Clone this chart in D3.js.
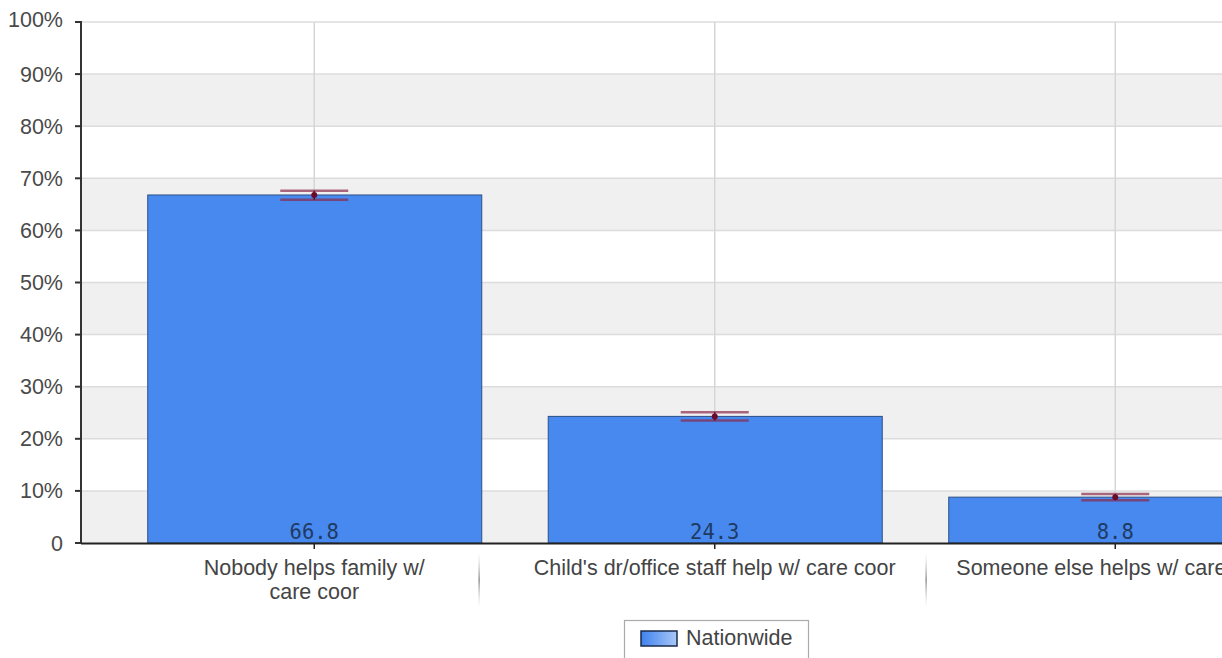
<!DOCTYPE html>
<html><head><meta charset="utf-8">
<script src="https://cdn.jsdelivr.net/npm/d3@7"></script>
<style>
html,body{margin:0;padding:0;background:#fff;overflow:hidden;}
svg{display:block;font-family:"Liberation Sans",Arial,sans-serif;}
</style></head>
<body>
<svg id="chart" width="1222" height="658"></svg>
<script>
const categories = ["Nobody helps family w/ care coor", "Child's dr/office staff help w/ care coor", "Someone else helps w/ care coor"];
const labelLines = [["Nobody helps family w/", "care coor"], ["Child's dr/office staff help w/ care coor"], ["Someone else helps w/ care coor"]];
const values = [66.8, 24.3, 8.8];
const ciLower = [65.9, 23.5, 8.2];
const ciUpper = [67.6, 25.1, 9.4];
const yTicks = [0, 10, 20, 30, 40, 50, 60, 70, 80, 90, 100];
const seriesName = "Nationwide";

(function () {
const svg = d3.select("#chart");
const pLeft = 81, pTop = 22, pBottom = 543, pRight = 1400;
const fs = 21.5;
const x = d3.scaleBand().domain(categories).range([114, 1315.5]).paddingInner(0.166).paddingOuter(0.083);
const y = d3.scaleLinear().domain([0, 100]).range([pBottom, pTop]);

const defs = svg.append("defs");
const clip = defs.append("clipPath").attr("id", "pclip");
clip.append("rect").attr("x", pLeft).attr("y", 0).attr("width", 1222 - pLeft).attr("height", pBottom + 2);
const grad = defs.append("linearGradient").attr("id", "lg").attr("x1", 0).attr("x2", 1).attr("y1", 0).attr("y2", 0);
grad.append("stop").attr("offset", 0).attr("stop-color", "#3f82ef");
grad.append("stop").attr("offset", 1).attr("stop-color", "#a9c8f7");

const plot = svg.append("g").attr("clip-path", "url(#pclip)");

plot.selectAll("rect.band").data(yTicks.slice(0, -1).filter(d => d % 20 === 0))
  .join("rect").attr("class", "band")
  .attr("x", pLeft).attr("width", pRight - pLeft)
  .attr("y", d => y(d + 10)).attr("height", d => y(d) - y(d + 10))
  .attr("fill", "#f0f0f0");

plot.selectAll("line.hg").data(yTicks.slice(1)).join("line").attr("class", "hg")
  .attr("x1", pLeft).attr("x2", pRight).attr("y1", d => y(d)).attr("y2", d => y(d))
  .attr("stroke", "#dcdcdc").attr("stroke-width", 1.5);

plot.selectAll("line.vg").data(categories).join("line").attr("class", "vg")
  .attr("x1", d => x(d) + x.bandwidth() / 2).attr("x2", d => x(d) + x.bandwidth() / 2)
  .attr("y1", pTop).attr("y2", pBottom)
  .attr("stroke", "#d6d6d6").attr("stroke-width", 1.5);

plot.selectAll("rect.bar").data(values).join("rect").attr("class", "bar")
  .attr("x", (d, i) => x(categories[i]) + 0.5).attr("width", x.bandwidth())
  .attr("y", d => y(d)).attr("height", d => pBottom - y(d))
  .attr("fill", "#4889ef").attr("stroke", "#2d4f86").attr("stroke-width", 1);

plot.selectAll("text.val").data(values).join("text").attr("class", "val")
  .attr("x", (d, i) => x(categories[i]) + x.bandwidth() / 2)
  .attr("y", pBottom - 4)
  .attr("text-anchor", "middle")
  .attr("font-family", "'DejaVu Sans Mono', monospace").attr("font-size", 20.5)
  .attr("fill", "#1f3a63")
  .text(d => d.toFixed(1));

const eb = plot.selectAll("g.eb").data(values).join("g").attr("class", "eb");
eb.each(function (d, i) {
  const cx = x(categories[i]) + x.bandwidth() / 2;
  const g = d3.select(this);
  [ciUpper[i], ciLower[i]].forEach(v => {
    g.append("line").attr("x1", cx - 34).attr("x2", cx + 34)
      .attr("y1", y(v)).attr("y2", y(v))
      .attr("stroke", "#8a2a4a").attr("stroke-opacity", 0.7).attr("stroke-width", 2.5);
  });
  g.append("line").attr("x1", cx).attr("x2", cx).attr("y1", y(ciUpper[i])).attr("y2", y(ciLower[i]))
    .attr("stroke", "#6a0a2a").attr("stroke-width", 1.5);
  g.append("circle").attr("cx", cx).attr("cy", y(d)).attr("r", 3).attr("fill", "#6a0a2a");
});

svg.append("line").attr("x1", pLeft).attr("x2", pLeft).attr("y1", pTop - 1).attr("y2", pBottom + 1)
  .attr("stroke", "#333").attr("stroke-width", 2);
svg.selectAll("line.yt").data(yTicks).join("line").attr("class", "yt")
  .attr("x1", pLeft - 6).attr("x2", pLeft).attr("y1", d => y(d)).attr("y2", d => y(d))
  .attr("stroke", "#333").attr("stroke-width", 2);
svg.selectAll("text.yl").data(yTicks).join("text").attr("class", "yl")
  .attr("x", 63).attr("y", d => y(d) + (d === 100 ? 5 : 7.5))
  .attr("text-anchor", "end").attr("font-size", fs).attr("fill", "#4a4a4a")
  .text(d => d === 0 ? "0" : d + "%");

svg.append("line").attr("x1", pLeft).attr("x2", 1222).attr("y1", pBottom + 0.5).attr("y2", pBottom + 0.5)
  .attr("stroke", "#222").attr("stroke-width", 2);
svg.selectAll("line.xt").data(categories).join("line").attr("class", "xt")
  .attr("x1", d => x(d) + x.bandwidth() / 2).attr("x2", d => x(d) + x.bandwidth() / 2)
  .attr("y1", pBottom).attr("y2", pBottom + 6)
  .attr("stroke", "#222").attr("stroke-width", 1.5);

const xl = svg.selectAll("text.xl").data(categories).join("text").attr("class", "xl")
  .attr("text-anchor", "middle").attr("font-size", fs).attr("fill", "#444");
xl.each(function (d, i) {
  const cx = x(d) + x.bandwidth() / 2;
  d3.select(this).selectAll("tspan").data(labelLines[i]).join("tspan")
    .attr("x", cx).attr("y", (l, j) => 575 + j * 24).text(l => l);
});
const extents = [];
xl.each(function () { const b = this.getBBox(); extents.push([b.x, b.x + b.width]); });
const sepGrad = defs.append("linearGradient").attr("id", "sg").attr("x1", 0).attr("x2", 0).attr("y1", 0).attr("y2", 1);
sepGrad.append("stop").attr("offset", 0).attr("stop-color", "#bbb").attr("stop-opacity", 0);
sepGrad.append("stop").attr("offset", 0.5).attr("stop-color", "#777");
sepGrad.append("stop").attr("offset", 1).attr("stop-color", "#bbb").attr("stop-opacity", 0);
for (let i = 0; i < extents.length - 1; i++) {
  const sx = Math.round((extents[i][1] + extents[i + 1][0]) / 2);
  svg.append("rect").attr("x", sx - 0.5).attr("width", 1.2).attr("y", 553).attr("height", 54)
    .attr("fill", "url(#sg)");
}

const lg = svg.append("g");
lg.append("rect").attr("x", 624.5).attr("y", 620.5).attr("width", 184).attr("height", 50)
  .attr("fill", "#fff").attr("stroke", "#aaa").attr("stroke-width", 1.2);
lg.append("rect").attr("x", 641).attr("y", 631).attr("width", 36).attr("height", 15)
  .attr("fill", "url(#lg)").attr("stroke", "#1a2a4a").attr("stroke-width", 1.5);
lg.append("text").attr("x", 686).attr("y", 645).attr("font-size", fs).attr("fill", "#444").text(seriesName);
})();
</script>
</body></html>
